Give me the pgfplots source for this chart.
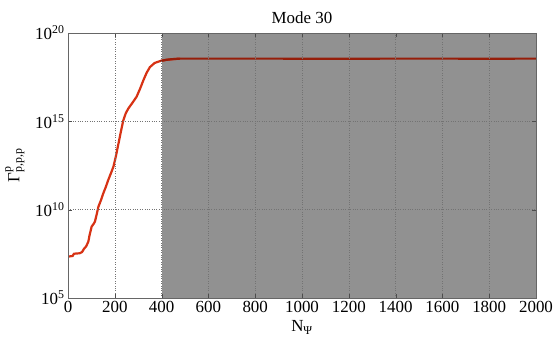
\documentclass[border=0pt]{standalone}
\usepackage{amsmath}
\usepackage{fontspec}
\setmainfont{Liberation Serif}
\usepackage{pgfplots}
\pgfplotsset{compat=1.18}
\definecolor{curvered}{RGB}{215,50,20}
\definecolor{darkred}{RGB}{150,30,10}
\definecolor{shade}{RGB}{145,145,145}
\begin{document}
\begin{tikzpicture}
\path[use as bounding box] (0,0) rectangle (553bp,344bp);
\begin{axis}[
  at={(68bp,46bp)}, anchor=south west,
  width=468bp, height=265bp, scale only axis,
  xmin=0, xmax=2000, ymin=1e5, ymax=1e20,
  ymode=log,
  xtick={0,200,...,2000},
  ytick={1e5,1e10,1e15,1e20},
  yticklabels={10$^{\text{5}}$,10$^{\text{10}}$,10$^{\text{15}}$,10$^{\text{20}}$},
  minor ytick={}, yminorticks=false,
  /pgf/number format/assume math mode=true,
  /pgf/number format/1000 sep={},
  tick label style={font=\fontsize{17}{19}\selectfont},
  label style={font=\fontsize{17}{19}\selectfont},
  title style={font=\fontsize{17}{19}\selectfont, yshift=0bp},
  title={Mode 30},
  xlabel={N$_{\text{Ψ}}$},
  ylabel={Γ$^{\text{p}}_{\text{p,p,p}}$},
  xlabel style={yshift=-1bp},
  ylabel style={yshift=4bp},
  grid=major,
  major grid style={dotted, black!55, line width=0.5bp},
  tick align=inside, tickpos=both, major tick length=4bp,
  axis line style={black!60, line width=0.8bp},
  tick style={black!70},
  axis on top,
]
\addplot[fill=shade, draw=none] coordinates {(400,1e5) (2000,1e5) (2000,1e20) (400,1e20)} -- cycle;
\addplot[curvered, line width=2.2bp] coordinates {
(0,2.19e7) (10,2.30e7) (20,2.40e7) (25,3.16e7) (35,3.30e7) (50,3.40e7) (60,3.98e7)
(68,6.0e7) (78,8.5e7) (87,1.58e8) (92,3.5e8) (101,1.10e9) (110,1.6e9) (115,2.09e9)
(122,5.0e9) (130,1.48e10) (140,3.2e10) (151,8.51e10) (162,2.0e11) (172,4.79e11)
(184,1.2e12) (194,2.69e12) (205,1.1e13) (215,5.0e13) (226,2.6e14) (236,1.1e15)
(247,2.9e15) (258,5.37e15) (275,1.1e16) (293,2.45e16) (308,7.0e16) (322,2.09e17)
(336,5.6e17) (350,1.17e18) (370,2.0e18) (393,2.57e18) (420,3.0e18) (450,3.3e18) (479,3.55e18)
};
\addplot[darkred, line width=2.2bp] coordinates {
(395,2.6e18) (420,3.05e18) (450,3.35e18) (479,3.55e18) (2000,3.55e18)
};
\addplot[darkred, line width=1.5bp] coordinates {
(920,3.25e18) (1333,3.25e18)
};
\addplot[darkred, line width=1.5bp] coordinates {
(1667,3.25e18) (1910,3.25e18)
};
\end{axis}
\end{tikzpicture}
\end{document}
